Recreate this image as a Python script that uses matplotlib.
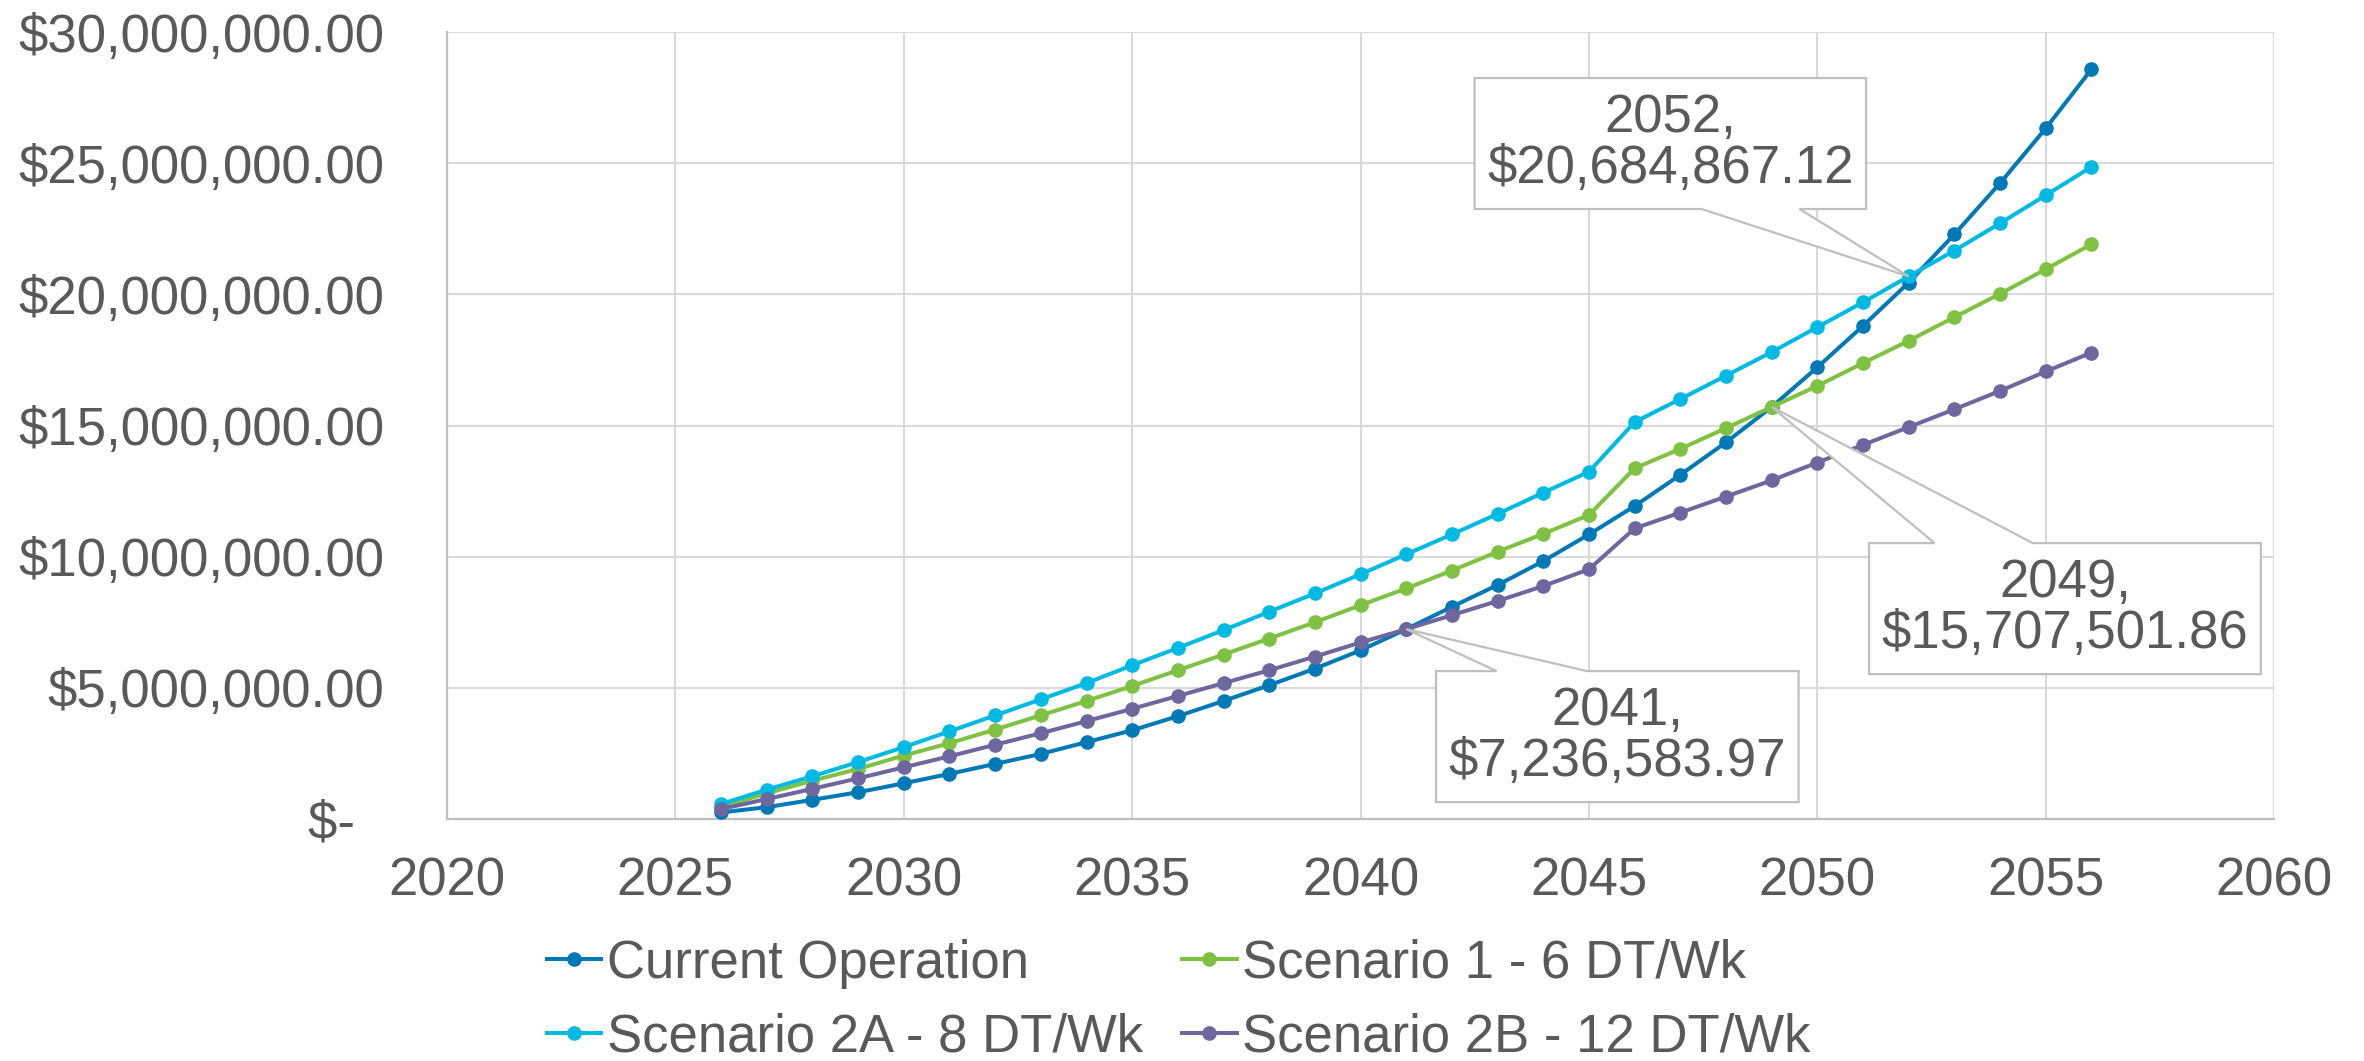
import matplotlib
matplotlib.use("Agg")
import matplotlib.pyplot as plt
from matplotlib.ticker import FuncFormatter, MultipleLocator
from matplotlib.patches import Polygon

plt.rcParams['font.family'] = ['Liberation Sans', 'DejaVu Sans']

years = list(range(2026, 2057))

current_operation = [0.25, 0.45, 0.73, 1.02, 1.36, 1.72, 2.10, 2.48, 2.93, 3.38,
                     3.92, 4.50, 5.10, 5.73, 6.43, 7.236583, 8.09, 8.92, 9.83, 10.85,
                     11.93, 13.12, 14.36, 15.707502, 17.22, 18.80, 20.45, 22.29, 24.24, 26.33,
                     28.58]
scenario_1 = [0.45, 0.98, 1.46, 1.91, 2.42, 2.89, 3.41, 3.95, 4.50, 5.07,
              5.67, 6.27, 6.88, 7.50, 8.15, 8.79, 9.47, 10.19, 10.87, 11.59,
              13.37, 14.11, 14.90, 15.707502, 16.51, 17.38, 18.23, 19.13, 20.02, 20.96,
              21.91]
scenario_2a = [0.57, 1.12, 1.63, 2.17, 2.74, 3.34, 3.95, 4.56, 5.18, 5.86,
               6.52, 7.20, 7.90, 8.60, 9.33, 10.09, 10.85, 11.63, 12.44, 13.24,
               15.13, 16.01, 16.90, 17.80, 18.75, 19.70, 20.684867, 21.67, 22.71, 23.78,
               24.86]
scenario_2b = [0.38, 0.76, 1.15, 1.55, 1.97, 2.39, 2.83, 3.27, 3.73, 4.20,
               4.69, 5.18, 5.67, 6.19, 6.73, 7.236583, 7.77, 8.31, 8.88, 9.52,
               11.08, 11.68, 12.29, 12.91, 13.59, 14.26, 14.94, 15.62, 16.32, 17.06,
               17.78]

series_names = ["Current Operation", "Scenario 1 - 6 DT/Wk",
                "Scenario 2A - 8 DT/Wk", "Scenario 2B - 12 DT/Wk"]
series_values = [current_operation, scenario_1, scenario_2a, scenario_2b]
colors = ["#0079B6", "#7FC241", "#00BAE3", "#6E669E"]

# callouts
callout_years = [2052, 2049, 2041]
callout_values = [20684867.12, 15707501.86, 7236583.97]
callout_text_pos = [(2046.78, 25.75e6), (2055.42, 8.02e6), (2045.62, 3.14e6)]
callout_edge = ["bottom", "top", "top"]
callout_fracs = [(0.58, 0.83), (0.167, 0.418), (0.167, 0.417)]

TXT = "#595959"
GRID = "#D9D9D9"
EDGE = "#BFBFBF"
FS = 38

fig = plt.figure(figsize=(23.64, 10.61), dpi=100)
ax = fig.add_axes([0.1891, 0.2281, 0.7729, 0.7417])

lines = {}
for i in range(4):
    vals = [v * 1e6 for v in series_values[i]]
    ln, = ax.plot(years, vals, color=colors[i], lw=2.9, marker='o', ms=9.5,
                  label=series_names[i], zorder=3 + i * 0.1)
    lines[i] = ln

ax.set_xlim(2020, 2060)
ax.set_ylim(0, 30e6)
ax.xaxis.set_major_locator(MultipleLocator(5))
ax.yaxis.set_major_locator(MultipleLocator(5e6))


def yfmt(v, pos):
    if abs(v) < 1:
        return "$-  "
    return "${:,.2f}".format(v)


ax.yaxis.set_major_formatter(FuncFormatter(yfmt))
ax.grid(True, color=GRID, lw=1.5, zorder=0)
ax.set_axisbelow(True)
for s in ["top", "right"]:
    ax.spines[s].set_visible(False)
for s in ["left", "bottom"]:
    ax.spines[s].set_color(EDGE)
    ax.spines[s].set_linewidth(1.6)
ax.tick_params(axis='both', length=0, labelsize=FS, labelcolor=TXT)
ax.tick_params(axis='y', pad=45)
ax.tick_params(axis='x', pad=27)

# callout texts
texts = []
for yr, val, pos in zip(callout_years, callout_values, callout_text_pos):
    t = ax.text(pos[0], pos[1], "{},\n${:,.2f}".format(yr, val), ha='center',
                va='center', fontsize=FS, color=TXT, linespacing=1.02, zorder=12)
    texts.append(t)

fig.canvas.draw()
renderer = fig.canvas.get_renderer()
inv = ax.transData.inverted()
BOX_H = 131
for t, yr, val, pos, edge, fr in zip(texts, callout_years, callout_values,
                                     callout_text_pos, callout_edge, callout_fracs):
    bb = t.get_window_extent(renderer)
    cx, cy = ax.transData.transform(pos)
    w = bb.width + 25
    x0, x1 = cx - w / 2, cx + w / 2
    y0, y1 = cy - BOX_H / 2, cy + BOX_H / 2
    px, py = ax.transData.transform((yr, val))
    a1 = x0 + fr[0] * w
    a2 = x0 + fr[1] * w
    if edge == "top":
        verts = [(x0, y0), (x1, y0), (x1, y1), (a2, y1), (px, py), (a1, y1), (x0, y1)]
    else:
        verts = [(x0, y1), (x0, y0), (a1, y0), (px, py), (a2, y0), (x1, y0), (x1, y1)]
    verts = inv.transform(verts)
    poly = Polygon(verts, closed=True, fc="white", ec=EDGE, lw=1.6, zorder=11,
                   clip_on=False, joinstyle='miter')
    ax.add_patch(poly)

legend_order = [0, 2, 1, 3]
leg = fig.legend(handles=[lines[i] for i in legend_order],
                 labels=[series_names[i] for i in legend_order], ncol=2,
                 loc='center', bbox_to_anchor=(0.4985, 0.057), frameon=False,
                 fontsize=FS, handlelength=1.04, handletextpad=0.1,
                 columnspacing=0.74, labelspacing=0.45, borderaxespad=0)
for t in leg.get_texts():
    t.set_color(TXT)
for h in leg.legend_handles:
    h.set_markersize(9.5)
    h.set_linewidth(2.9)

fig.savefig("out.png", dpi=100, facecolor="white")
